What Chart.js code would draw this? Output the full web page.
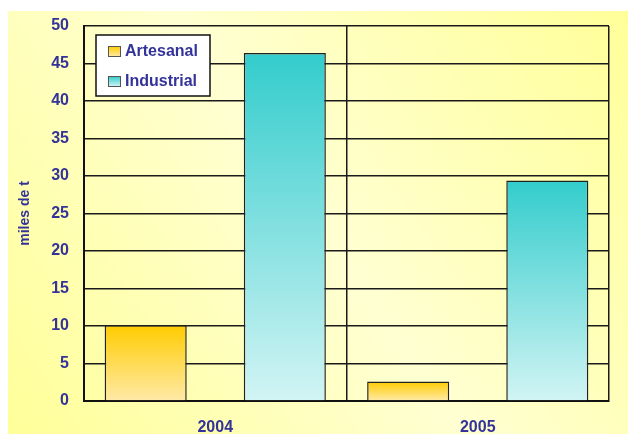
<!DOCTYPE html>
<html>
<head>
<meta charset="utf-8">
<script src="https://cdn.jsdelivr.net/npm/chart.js@4/dist/chart.umd.min.js"></script>
<style>
    html, body { margin: 0; padding: 0; background: #ffffff; }
    canvas { display: block; }
</style>
</head>
<body>
<canvas id="prodChart" width="628" height="434"></canvas>
<script>
const years = ['2004', '2005'];
const artesanal = [10.1, 2.6];
const industrial = [46.4, 29.4];
const yTicks = [0, 5, 10, 15, 20, 25, 30, 35, 40, 45, 50];

const TEXT_BLUE = '#333399';
const FONT = "'Liberation Sans', Arial, sans-serif";

// vertical gradient for each bar, from its top to the zero line
function barFill(topColor, bottomColor) {
    return (ctx) => {
        const chart = ctx.chart;
        if (!chart.chartArea || ctx.type !== 'data') return topColor;
        const y = chart.scales.y;
        const yTop = y.getPixelForValue(ctx.raw);
        const yBase = y.getPixelForValue(0);
        const g = chart.ctx.createLinearGradient(0, yTop, 0, yBase);
        g.addColorStop(0, topColor);
        g.addColorStop(1, bottomColor);
        return g;
    };
}

const backgroundPlugin = {
    id: 'bgPanel',
    beforeDraw(chart) {
        const c = chart.ctx;
        const w = chart.width, h = chart.height;
        const g = c.createLinearGradient(8, h, w, 11);
        g.addColorStop(0, '#ffff99');
        g.addColorStop(0.5, '#ffffd2');
        g.addColorStop(1, '#ffff99');
        c.save();
        c.fillStyle = g;
        c.fillRect(8, 11, w - 8, h - 11);
        c.restore();
    }
};

const legendPlugin = {
    id: 'boxLegend',
    afterDraw(chart) {
        const c = chart.ctx;
        const box = { x: 96, y: 35, w: 114, h: 61 };
        c.save();
        c.fillStyle = '#ffffff';
        c.fillRect(box.x, box.y, box.w, box.h);
        c.strokeStyle = '#111111';
        c.lineWidth = 1.5;
        c.strokeRect(box.x, box.y, box.w, box.h);

        const swatches = [['#ffcc00', '#ffeaa8'], ['#33cccc', '#d2f4f4']];
        chart.data.datasets.forEach((ds, i) => {
            const cy = 51.5 + i * 30;
            const g = c.createLinearGradient(0, cy - 5, 0, cy + 5);
            g.addColorStop(0, swatches[i][0]);
            g.addColorStop(1, swatches[i][1]);
            c.fillStyle = g;
            c.fillRect(108, cy - 5, 12, 10);
            c.strokeStyle = '#555555';
            c.lineWidth = 1;
            c.strokeRect(108.5, cy - 5, 12, 10);

            c.fillStyle = TEXT_BLUE;
            c.font = 'bold 16px ' + FONT;
            c.textBaseline = 'middle';
            c.textAlign = 'left';
            c.fillText(ds.label, 125, cy);
        });
        c.restore();
    }
};

new Chart(document.getElementById('prodChart'), {
    type: 'bar',
    data: {
        labels: years,
        datasets: [{
            label: 'Artesanal',
            data: artesanal,
            backgroundColor: barFill('#ffcc00', '#ffeaa8'),
            borderColor: '#222222',
            borderWidth: 1.5,
            categoryPercentage: 1.06,
            barPercentage: 0.59
        }, {
            label: 'Industrial',
            data: industrial,
            backgroundColor: barFill('#33cccc', '#d2f4f4'),
            borderColor: '#222222',
            borderWidth: 1.5,
            categoryPercentage: 1.06,
            barPercentage: 0.59
        }]
    },
    options: {
        responsive: false,
        animation: false,
        layout: {
            padding: { left: 8, top: 26, right: 19, bottom: 0 }
        },
        plugins: {
            legend: { display: false },
            tooltip: { enabled: false }
        },
        scales: {
            x: {
                offset: true,
                grid: {
                    offset: true,
                    color: '#1a1a1a',
                    lineWidth: 1.5,
                    drawTicks: false
                },
                border: { color: '#111111', width: 2 },
                ticks: {
                    color: TEXT_BLUE,
                    font: { family: FONT, size: 16, weight: 'bold' },
                    padding: 17
                },
                afterFit(scale) { scale.height = 33; }
            },
            y: {
                min: 0,
                max: 50,
                afterBuildTicks(scale) {
                    scale.ticks = yTicks.map(v => ({ value: v }));
                },
                grid: {
                    color: '#1a1a1a',
                    lineWidth: 1.5,
                    drawTicks: false
                },
                border: { color: '#111111', width: 2 },
                ticks: {
                    color: TEXT_BLUE,
                    font: { family: FONT, size: 16, weight: 'bold' },
                    padding: 15
                },
                title: {
                    display: true,
                    text: 'miles de t',
                    color: TEXT_BLUE,
                    font: { family: FONT, size: 14, weight: 'bold' },
                    padding: { top: 9, bottom: 0 }
                },
                afterFit(scale) { scale.width = 76; }
            }
        }
    },
    plugins: [backgroundPlugin, legendPlugin]
});
</script>
</body>
</html>
